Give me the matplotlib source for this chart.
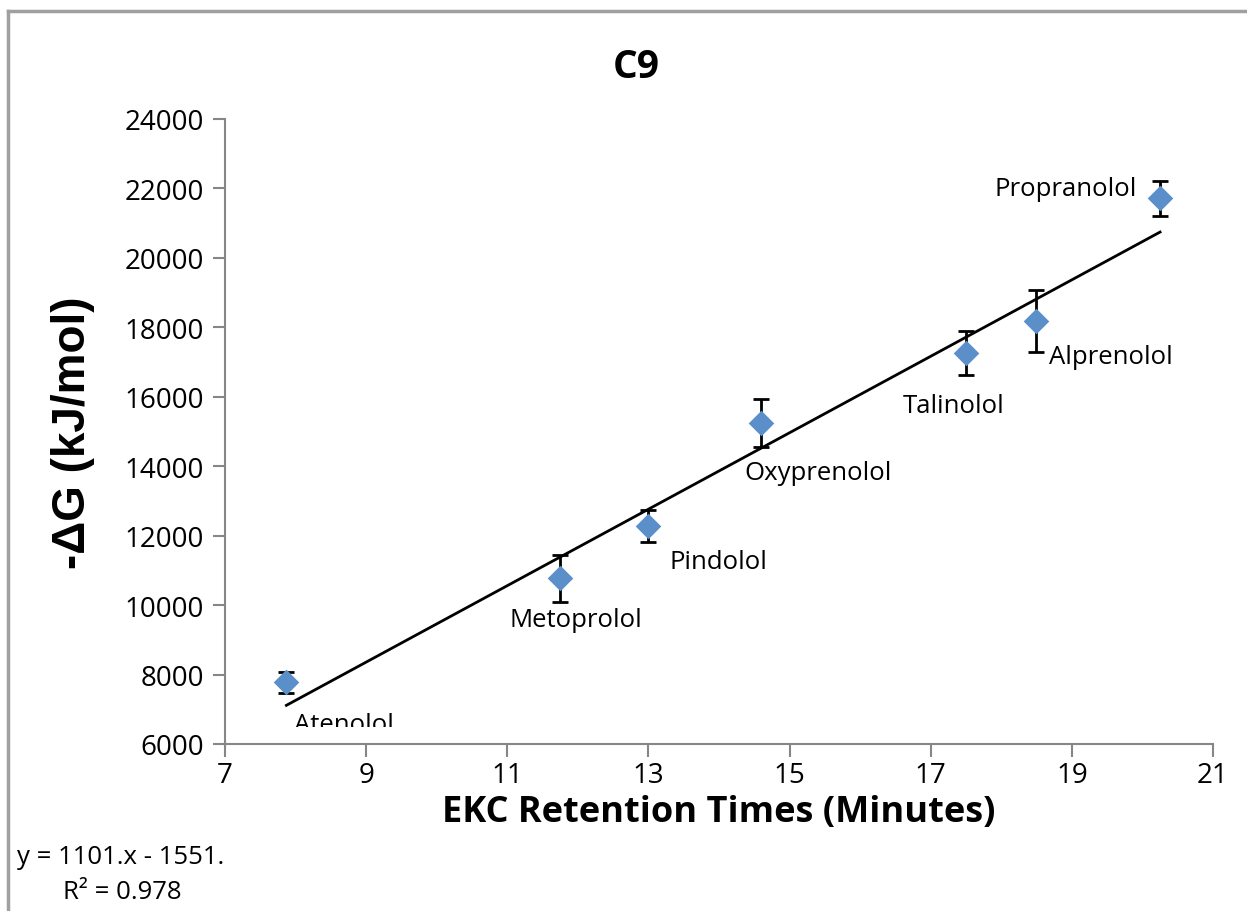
import matplotlib
matplotlib.use("Agg")
import matplotlib.pyplot as plt
from matplotlib.lines import Line2D
from matplotlib.patches import Rectangle

# ---- data ----
drugs = ["Atenolol", "Metoprolol", "Pindolol", "Oxyprenolol", "Talinolol", "Alprenolol", "Propranolol"]
retention = [7.87, 11.74, 12.99, 14.60, 17.50, 18.49, 20.25]
dG = [7777, 10772, 12288, 15236, 17262, 18192, 21717]
dG_err = [300, 670, 465, 690, 625, 893, 505]
slope = 1101.0
intercept = -1551.0
r2 = 0.978
x_ticks = [7, 9, 11, 13, 15, 17, 19, 21]
y_ticks = [6000, 8000, 10000, 12000, 14000, 16000, 18000, 20000, 22000, 24000]
# label offsets (data units)
label_dx = [0.82, 0.23, 1.0, 0.8, -0.17, 1.06, -1.34]
label_dy = [-1220, -1200, -1046, -1431, -1527, -1046, 268]

plt.rcParams['font.family'] = ['Open Sans', 'DejaVu Sans']

fig = plt.figure(figsize=(12.47, 9.12), dpi=100)
ax = fig.add_axes([225/1247, 1-745/912, (1213-225)/1247, (745-120)/912])

grey = '#868686'
ax.set_xlim(7, 21)
ax.set_ylim(6000, 24000)
ax.set_xticks(x_ticks)
ax.set_yticks(y_ticks)
for s in ['top', 'right']:
    ax.spines[s].set_visible(False)
for s in ['left', 'bottom']:
    ax.spines[s].set_color(grey)
    ax.spines[s].set_linewidth(1.5)
ax.tick_params(axis='both', direction='out', length=9, width=1.5, color=grey,
               labelsize=20, pad=6)
ax.tick_params(axis='x', pad=3)

# trendline
x0, x1 = retention[0], retention[-1]
ax.plot([x0, x1], [slope*x0 + intercept, slope*x1 + intercept], color='black', lw=2, zorder=2)

# error bars + markers
ax.errorbar(retention, dG, yerr=dG_err, fmt='none', ecolor='black', elinewidth=2,
            capsize=6, capthick=2, zorder=3)
ax.scatter(retention, dG, marker='D', s=170, color='#5B8FC9', zorder=4, linewidths=0)

clip = Rectangle((7, 6490), 14, 18000, transform=ax.transData, visible=False)
ax.add_patch(clip)
for name, x, y, dx, dy in zip(drugs, retention, dG, label_dx, label_dy):
    t = ax.text(x + dx, y + dy, name, ha='center', va='center', fontsize=18.5, color='black', zorder=5)
    t.set_clip_on(True)
    t.set_clip_path(clip)

ax.set_xlabel("EKC Retention Times (Minutes)", fontsize=26, fontweight='bold', labelpad=4)
ax.set_ylabel("-ΔG (kJ/mol)", fontsize=33, fontweight='bold', labelpad=21,
              family=['Liberation Sans', 'DejaVu Sans'])

fig.text(636/1247, 1-68/912, "C9", ha='center', va='center', fontsize=28, fontweight='bold')

fig.text(121/1247, 1-858/912, f"y = {slope:.0f}.x - {-intercept:.0f}.", ha='center', va='center', fontsize=18.5)
fig.text(122/1247, 1-893/912, f"R² = {r2}", ha='center', va='center', fontsize=18.5)

# chart frame (top and left visible)
fig.add_artist(Line2D([8/1247, 8/1247], [0, 1-12/912], color='#a0a0a0', lw=2.5, transform=fig.transFigure))
fig.add_artist(Line2D([8/1247, 1], [1-12/912, 1-12/912], color='#a0a0a0', lw=2.5, transform=fig.transFigure))

fig.savefig("out.png", dpi=100)
